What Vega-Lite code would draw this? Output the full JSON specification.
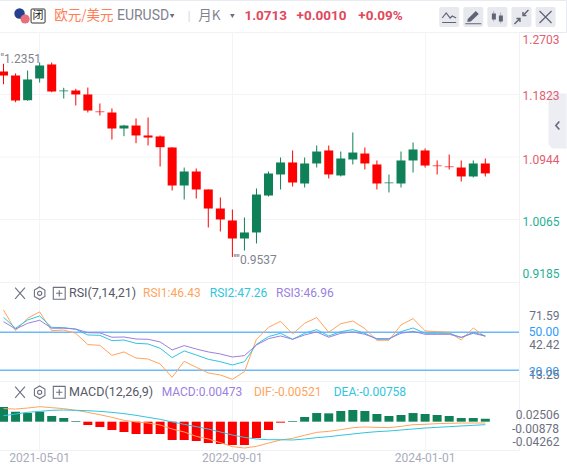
{"$schema":"https://vega.github.io/schema/vega-lite/v6.json","padding":{"left":-3,"top":-1,"right":0,"bottom":0},"spacing":0,"bounds":"flush","background":"#ffffff","config":{"font":"Roboto","view":{"stroke":"#f1f2f6"},"axis":{"title":null}},
"datasets":{"series":[
{"m":"2021-02-01","o":1.2147,"h":1.2256,"l":1.1968,"c":1.2091,"r1":67.6,"r2":61.8,"r3":58.4,"hist":0.0238,"dif":0.0211,"dea":0.0097},
{"m":"2021-03-01","o":1.2091,"h":1.2119,"l":1.1715,"c":1.1739,"r1":51.3,"r2":53.2,"r3":52.6,"hist":0.0162,"dif":0.0205,"dea":0.0124},
{"m":"2021-04-01","o":1.1743,"h":1.2161,"l":1.1735,"c":1.2035,"r1":61.1,"r2":59.7,"r3":57.1,"hist":0.014,"dif":0.0221,"dea":0.0151},
{"m":"2021-05-01","o":1.2049,"h":1.2274,"l":1.1992,"c":1.2232,"r1":66.1,"r2":62.9,"r3":59.5,"hist":0.0162,"dif":0.0243,"dea":0.0167},
{"m":"2021-06-01","o":1.2246,"h":1.2274,"l":1.1856,"c":1.1866,"r1":51.3,"r2":53.9,"r3":53.2,"hist":0.0092,"dif":0.0227,"dea":0.0184},
{"m":"2021-07-01","o":1.187,"h":1.1918,"l":1.1767,"c":1.188,"r1":51.8,"r2":53.7,"r3":53.2,"hist":0.0059,"dif":0.0211,"dea":0.0189},
{"m":"2021-08-01","o":1.188,"h":1.1904,"l":1.1669,"c":1.1824,"r1":49.2,"r2":52.4,"r3":52.6,"hist":0.0011,"dif":0.0184,"dea":0.0184},
{"m":"2021-09-01","o":1.1824,"h":1.1922,"l":1.157,"c":1.1598,"r1":40.3,"r2":47.9,"r3":49.7,"hist":-0.0054,"dif":0.0151,"dea":0.0178},
{"m":"2021-10-01","o":1.1584,"h":1.1697,"l":1.1528,"c":1.1575,"r1":39.7,"r2":47.6,"r3":49.5,"hist":-0.0086,"dif":0.0113,"dea":0.0167},
{"m":"2021-11-01","o":1.157,"h":1.1627,"l":1.119,"c":1.1345,"r1":31.8,"r2":43.4,"r3":46.1,"hist":-0.0135,"dif":0.007,"dea":0.0151},
{"m":"2021-12-01","o":1.1345,"h":1.1397,"l":1.1237,"c":1.1387,"r1":34.5,"r2":43.9,"r3":46.3,"hist":-0.0167,"dif":0.0022,"dea":0.013},
{"m":"2022-01-01","o":1.1387,"h":1.1486,"l":1.1138,"c":1.1247,"r1":29.7,"r2":41.3,"r3":44.7,"hist":-0.02,"dif":-0.0005,"dea":0.0103},
{"m":"2022-02-01","o":1.1247,"h":1.15,"l":1.1106,"c":1.1218,"r1":28.9,"r2":40.8,"r3":44.5,"hist":-0.02,"dif":-0.0022,"dea":0.007},
{"m":"2022-03-01","o":1.1233,"h":1.1247,"l":1.081,"c":1.1082,"r1":25,"r2":37.4,"r3":42.4,"hist":-0.02,"dif":-0.0054,"dea":0.0038},
{"m":"2022-04-01","o":1.1078,"h":1.1082,"l":1.0473,"c":1.0543,"r1":14.5,"r2":30,"r3":36.1,"hist":-0.0297,"dif":-0.0119,"dea":-0.0005},
{"m":"2022-05-01","o":1.0543,"h":1.0796,"l":1.0346,"c":1.074,"r1":27.1,"r2":35.3,"r3":39.5,"hist":-0.0297,"dif":-0.0167,"dea":-0.0043},
{"m":"2022-06-01","o":1.074,"h":1.0782,"l":1.036,"c":1.0487,"r1":22.4,"r2":32.1,"r3":36.8,"hist":-0.0313,"dif":-0.0238,"dea":-0.0081},
{"m":"2022-07-01","o":1.0487,"h":1.0487,"l":0.9952,"c":1.0219,"r1":17.9,"r2":28.7,"r3":34.5,"hist":-0.0346,"dif":-0.0281,"dea":-0.0119},
{"m":"2022-08-01","o":1.0219,"h":1.0374,"l":0.9896,"c":1.0065,"r1":16.3,"r2":26.8,"r3":32.9,"hist":-0.0362,"dif":-0.034,"dea":-0.0167},
{"m":"2022-09-01","o":1.0051,"h":1.0205,"l":0.9537,"c":0.9797,"r1":12.9,"r2":24.2,"r3":30.5,"hist":-0.0378,"dif":-0.0405,"dea":-0.0216},
{"m":"2022-10-01","o":0.9797,"h":1.0093,"l":0.9628,"c":0.9882,"r1":18.9,"r2":26.8,"r3":31.6,"hist":-0.0378,"dif":-0.0427,"dea":-0.0254},
{"m":"2022-11-01","o":0.9882,"h":1.0501,"l":0.9727,"c":1.0416,"r1":44.5,"r2":40.5,"r3":40,"hist":-0.0265,"dif":-0.04,"dea":-0.0281},
{"m":"2022-12-01","o":1.0402,"h":1.074,"l":1.0388,"c":1.0712,"r1":53.9,"r2":46.6,"r3":45,"hist":-0.0135,"dif":-0.0346,"dea":-0.0292},
{"m":"2023-01-01","o":1.0698,"h":1.0937,"l":1.0487,"c":1.0867,"r1":58.7,"r2":49.2,"r3":47.1,"hist":-0.0016,"dif":-0.0297,"dea":-0.0292},
{"m":"2023-02-01","o":1.0867,"h":1.1036,"l":1.0529,"c":1.0585,"r1":48.7,"r2":44.5,"r3":44.5,"hist":0.0011,"dif":-0.027,"dea":-0.0297},
{"m":"2023-03-01","o":1.0571,"h":1.0937,"l":1.0515,"c":1.0853,"r1":57.1,"r2":49.2,"r3":47.9,"hist":0.0076,"dif":-0.0221,"dea":-0.0281},
{"m":"2023-04-01","o":1.0853,"h":1.1106,"l":1.0796,"c":1.1021,"r1":61.6,"r2":52.1,"r3":50.3,"hist":0.014,"dif":-0.0173,"dea":-0.0259},
{"m":"2023-05-01","o":1.1036,"h":1.1106,"l":1.0642,"c":1.0698,"r1":50,"r2":47.1,"r3":46.1,"hist":0.0135,"dif":-0.0157,"dea":-0.0243},
{"m":"2023-06-01","o":1.0684,"h":1.1021,"l":1.067,"c":1.0923,"r1":56.8,"r2":50.5,"r3":49.2,"hist":0.0173,"dif":-0.013,"dea":-0.0221},
{"m":"2023-07-01","o":1.0909,"h":1.1289,"l":1.0839,"c":1.1007,"r1":58.9,"r2":52.1,"r3":50.3,"hist":0.0189,"dif":-0.0097,"dea":-0.02},
{"m":"2023-08-01","o":1.0993,"h":1.1078,"l":1.0768,"c":1.0853,"r1":52.9,"r2":49.2,"r3":48.4,"hist":0.0173,"dif":-0.0086,"dea":-0.0178},
{"m":"2023-09-01","o":1.0839,"h":1.0895,"l":1.0487,"c":1.0571,"r1":43.7,"r2":44.5,"r3":45,"hist":0.0124,"dif":-0.0092,"dea":-0.0162},
{"m":"2023-10-01","o":1.0575,"h":1.0698,"l":1.0445,"c":1.0585,"r1":43.7,"r2":44.5,"r3":45,"hist":0.0092,"dif":-0.0097,"dea":-0.0151},
{"m":"2023-11-01","o":1.0571,"h":1.1021,"l":1.0515,"c":1.0895,"r1":55.8,"r2":50.5,"r3":49.2,"hist":0.0108,"dif":-0.0076,"dea":-0.0135},
{"m":"2023-12-01","o":1.0895,"h":1.1148,"l":1.0726,"c":1.105,"r1":60.8,"r2":53.4,"r3":50.8,"hist":0.014,"dif":-0.0049,"dea":-0.0119},
{"m":"2024-01-01","o":1.1036,"h":1.1064,"l":1.0796,"c":1.0824,"r1":51.1,"r2":49.2,"r3":48.4,"hist":0.0124,"dif":-0.0043,"dea":-0.0103},
{"m":"2024-02-01","o":1.0824,"h":1.0895,"l":1.0698,"c":1.0815,"r1":50.5,"r2":49.2,"r3":48.4,"hist":0.0108,"dif":-0.0032,"dea":-0.0092},
{"m":"2024-03-01","o":1.081,"h":1.0979,"l":1.0768,"c":1.0801,"r1":50,"r2":49.2,"r3":48.4,"hist":0.0092,"dif":-0.0027,"dea":-0.0081},
{"m":"2024-04-01","o":1.0796,"h":1.0895,"l":1.0599,"c":1.067,"r1":43.9,"r2":45.8,"r3":46.1,"hist":0.0059,"dif":-0.0022,"dea":-0.007},
{"m":"2024-05-01","o":1.067,"h":1.0895,"l":1.0656,"c":1.0853,"r1":53.4,"r2":50,"r3":49.2,"hist":0.0059,"dif":-0.0022,"dea":-0.0059},
{"m":"2024-06-01","o":1.0853,"h":1.0923,"l":1.067,"c":1.0713,"r1":46.43,"r2":47.26,"r3":46.96,"hist":0.00473,"dif":-0.0022,"dea":-0.0049}
]},
"vconcat":[
{"width":567,"height":32,"view":{"stroke":"#e9ebf2"},
"encoding":{"x":{"field":"m","type":"ordinal","axis":null,"scale":{"type":"band","paddingInner":0,"paddingOuter":0,"range":[-1.5,576.66],"domain":["2021-02-01","2021-03-01","2021-04-01","2021-05-01","2021-06-01","2021-07-01","2021-08-01","2021-09-01","2021-10-01","2021-11-01","2021-12-01","2022-01-01","2022-02-01","2022-03-01","2022-04-01","2022-05-01","2022-06-01","2022-07-01","2022-08-01","2022-09-01","2022-10-01","2022-11-01","2022-12-01","2023-01-01","2023-02-01","2023-03-01","2023-04-01","2023-05-01","2023-06-01","2023-07-01","2023-08-01","2023-09-01","2023-10-01","2023-11-01","2023-12-01","2024-01-01","2024-02-01","2024-03-01","2024-04-01","2024-05-01","2024-06-01","2024-07-01","2024-08-01","2024-09-01","2024-10-01","2024-11-01","2024-12-01","2025-01-01"]}}},
"layer":[
{"data":{"values":[{"m":"2021-03-01"}]},"mark":{"type":"point","shape":"circle","filled":true,"size":110,"color":"#25408f","xOffset":4,"yOffset":-2.5,"opacity":1}},
{"data":{"values":[{"m":"2021-04-01"}]},"mark":{"type":"point","shape":"circle","filled":true,"size":85,"color":"#e8707c","xOffset":-2.5,"yOffset":3,"opacity":1}},
{"data":{"values":[{"m":"2021-05-01"}]},"mark":{"type":"point","shape":"M-0.85,-1 H0.85 Q1,-1 1,-0.85 V0.85 Q1,1 0.85,1 H-0.85 Q-1,1 -1,0.85 V-0.85 Q-1,-1 -0.85,-1 Z","filled":true,"size":196,"fill":"#ffffff","stroke":"#333333","strokeWidth":1,"xOffset":-1.6,"opacity":1}},
{"data":{"values":[{"m":"2021-05-01","label":"闭"}]},"mark":{"type":"text","font":"Noto Sans CJK SC","fontSize":11,"color":"#222222","dx":-1.6},"encoding":{"text":{"field":"label"}}},
{"data":{"values":[{"m":"2021-06-01","label":"欧元/美元"}]},"mark":{"type":"text","font":"Noto Sans CJK SC","fontSize":13.5,"color":"#ff7e57","align":"left","dx":2.6},"encoding":{"text":{"field":"label"}}},
{"data":{"values":[{"m":"2021-11-01","label":"EURUSD"}]},"mark":{"type":"text","fontSize":14,"color":"#7f8391","align":"left","dx":5},"encoding":{"text":{"field":"label"}}},
{"data":{"values":[{"m":"2022-04-01"},{"m":"2022-09-01"}]},"mark":{"type":"point","shape":"triangle-down","filled":true,"size":22,"color":"#6d7080","opacity":1}},
{"data":{"values":[{"m":"2022-05-01","label":"|"}]},"mark":{"type":"text","fontSize":13,"color":"#d5d7df","dx":5},"encoding":{"text":{"field":"label"}}},
{"data":{"values":[{"m":"2022-06-01","label":"月K"}]},"mark":{"type":"text","font":"Noto Sans CJK SC","fontSize":13.5,"color":"#7f8391","align":"left","dx":2},"encoding":{"text":{"field":"label"}}},
{"data":{"values":[{"m":"2022-10-01","label":"1.0713"}]},"mark":{"type":"text","fontSize":13.5,"fontWeight":"bold","color":"#e0485c","align":"left"},"encoding":{"text":{"field":"label"}}},
{"data":{"values":[{"m":"2023-02-01","label":"+0.0010"}]},"mark":{"type":"text","fontSize":13.5,"fontWeight":"bold","color":"#e0485c","align":"left","dx":4},"encoding":{"text":{"field":"label"}}},
{"data":{"values":[{"m":"2023-07-01","label":"+0.09%"}]},"mark":{"type":"text","fontSize":13.5,"fontWeight":"bold","color":"#e0485c","align":"left","dx":5.5},"encoding":{"text":{"field":"label"}}},
{"data":{"values":[{"m":"2024-03-01"},{"m":"2024-05-01"},{"m":"2024-07-01"},{"m":"2024-09-01"},{"m":"2024-11-01"}]},"mark":{"type":"point","shape":"M-0.8,-1 H0.8 Q1,-1 1,-0.8 V0.8 Q1,1 0.8,1 H-0.8 Q-1,1 -1,0.8 V-0.8 Q-1,-1 -0.8,-1 Z","filled":true,"size":400,"color":"#e7e9ef","opacity":1,"xOffset":0,"yOffset":1}},
{"data":{"values":[{"m":"2024-03-01"}]},"mark":{"type":"point","shape":"M-0.7,0.1 L-0.3,-0.4 L0.1,0.1 L0.3,-0.1 L0.7,0.1 M-0.7,0.55 H0.7","filled":false,"size":400,"stroke":"#5f6473","strokeWidth":1.2,"opacity":1,"yOffset":1}},
{"data":{"values":[{"m":"2024-05-01"}]},"mark":{"type":"point","shape":"M-0.55,0.2 L0.25,-0.6 L0.55,-0.3 L-0.25,0.45 L-0.6,0.5 Z M-0.8,0.62 H0.8 V0.72 H-0.8 Z","filled":true,"size":400,"color":"#5f6473","opacity":1,"yOffset":1}},
{"data":{"values":[{"m":"2024-07-01"}]},"mark":{"type":"point","shape":"M-0.55,-0.35 H-0.15 V0.25 H-0.55 Z M0.15,-0.15 H0.55 V0.45 H0.15 Z M-0.37,-0.6 H-0.33 V0.45 H-0.37 Z M0.33,-0.45 H0.37 V0.65 H0.33 Z","filled":true,"size":400,"color":"#5f6473","opacity":1,"yOffset":1}},
{"data":{"values":[{"m":"2024-09-01"}]},"mark":{"type":"point","shape":"M-0.7,0.7 L-0.15,0.15 M-0.5,0.15 H-0.15 V0.5 M0.7,-0.7 L0.15,-0.15 M0.5,-0.15 H0.15 V-0.5","filled":false,"size":400,"stroke":"#5f6473","strokeWidth":1.4,"opacity":1,"yOffset":1}},
{"data":{"values":[{"m":"2024-11-01"}]},"mark":{"type":"point","shape":"M-0.6,-0.6 L0.6,0.6 M0.6,-0.6 L-0.6,0.6","filled":false,"size":400,"stroke":"#5f6473","strokeWidth":1.2,"opacity":1,"yOffset":1}}
]},
{"width":520,"height":250,"data":{"name":"series"},
"encoding":{"x":{"field":"m","type":"ordinal","axis":{"values":["2021-05-01","2022-09-01","2024-01-01"],"grid":true,"gridColor":"#f3f4f8","labels":false,"ticks":false,"domain":false},"scale":{"type":"band","paddingInner":0,"paddingOuter":0,"range":[-1.5,576.66],"domain":["2021-02-01","2021-03-01","2021-04-01","2021-05-01","2021-06-01","2021-07-01","2021-08-01","2021-09-01","2021-10-01","2021-11-01","2021-12-01","2022-01-01","2022-02-01","2022-03-01","2022-04-01","2022-05-01","2022-06-01","2022-07-01","2022-08-01","2022-09-01","2022-10-01","2022-11-01","2022-12-01","2023-01-01","2023-02-01","2023-03-01","2023-04-01","2023-05-01","2023-06-01","2023-07-01","2023-08-01","2023-09-01","2023-10-01","2023-11-01","2023-12-01","2024-01-01","2024-02-01","2024-03-01","2024-04-01","2024-05-01","2024-06-01","2024-07-01","2024-08-01","2024-09-01","2024-10-01","2024-11-01","2024-12-01","2025-01-01"]}}},
"layer":[
{"data":{"values":[{"p":1.1823},{"p":1.0944},{"p":1.0065}]},"mark":{"type":"rule","color":"#f3f4f8","strokeWidth":1},"encoding":{"x":{"value":0},"x2":{"value":520},"y":{"field":"p","type":"quantitative","scale":{"domain":[0.9185,1.2703],"nice":false,"zero":false},"axis":{"orient":"right","zindex":2,"values":[1.2597,1.181,1.0913,1.0036,0.9309],"labelExpr":"datum.value>1.25?'1.2703':datum.value>1.15?'1.1823':datum.value>1.05?'1.0944':datum.value>0.97?'1.0065':'0.9185'","labelColor":{"condition":{"test":"datum.value>1.05","value":"#e25d6e"},"value":"#1fb094"},"labelFontSize":12,"labelAlign":"right","labelPadding":40,"ticks":false,"domain":false,"grid":false}}}},
{"mark":{"type":"rule","strokeWidth":1},"encoding":{"y":{"field":"l","type":"quantitative","scale":{"domain":[0.9185,1.2703],"nice":false,"zero":false}},"y2":{"field":"h"},"color":{"condition":{"test":"datum.c<datum.o","value":"#ff0000"},"value":"#108059"}}},
{"mark":{"type":"bar","size":9},"encoding":{"y":{"field":"o","type":"quantitative","scale":{"domain":[0.9185,1.2703],"nice":false,"zero":false}},"y2":{"field":"c"},"color":{"condition":{"test":"datum.c<datum.o","value":"#ff0000"},"value":"#108059"}}},
{"data":{"values":[{"m":"2021-02-01","p":1.233,"label":"''1.2351"}]},"mark":{"type":"text","align":"left","fontSize":12,"color":"#7f8391","dx":-3},"encoding":{"y":{"field":"p","type":"quantitative","scale":{"domain":[0.9185,1.2703],"nice":false,"zero":false}},"text":{"field":"label"}}},
{"data":{"values":[{"m":"2022-09-01","p":0.9497,"label":"''''0.9537"}]},"mark":{"type":"text","align":"left","fontSize":12,"color":"#7f8391","dx":1},"encoding":{"y":{"field":"p","type":"quantitative","scale":{"domain":[0.9185,1.2703],"nice":false,"zero":false}},"text":{"field":"label"}}},
{"data":{"values":[{"m":"2024-12-01","t":1.1837,"b":1.1064}]},"mark":{"type":"bar","size":18,"color":"#eceef3","cornerRadiusBottomLeft":6},"encoding":{"y":{"field":"t","type":"quantitative","scale":{"domain":[0.9185,1.2703],"nice":false,"zero":false}},"y2":{"field":"b"}}},
{"data":{"values":[{"m":"2024-12-01","p":1.1386}]},"mark":{"type":"point","shape":"M0.35,-0.8 L-0.35,0 L0.35,0.8","filled":false,"size":100,"stroke":"#666a7a","strokeWidth":1.6,"opacity":1},"encoding":{"y":{"field":"p","type":"quantitative","scale":{"domain":[0.9185,1.2703],"nice":false,"zero":false}}}}
]},
{"width":520,"height":99,"data":{"name":"series"},
"encoding":{"x":{"field":"m","type":"ordinal","axis":{"values":["2021-05-01","2022-09-01","2024-01-01"],"grid":true,"gridColor":"#f3f4f8","labels":false,"ticks":false,"domain":false},"scale":{"type":"band","paddingInner":0,"paddingOuter":0,"range":[-1.5,576.66],"domain":["2021-02-01","2021-03-01","2021-04-01","2021-05-01","2021-06-01","2021-07-01","2021-08-01","2021-09-01","2021-10-01","2021-11-01","2021-12-01","2022-01-01","2022-02-01","2022-03-01","2022-04-01","2022-05-01","2022-06-01","2022-07-01","2022-08-01","2022-09-01","2022-10-01","2022-11-01","2022-12-01","2023-01-01","2023-02-01","2023-03-01","2023-04-01","2023-05-01","2023-06-01","2023-07-01","2023-08-01","2023-09-01","2023-10-01","2023-11-01","2023-12-01","2024-01-01","2024-02-01","2024-03-01","2024-04-01","2024-05-01","2024-06-01","2024-07-01","2024-08-01","2024-09-01","2024-10-01","2024-11-01","2024-12-01","2025-01-01"]}}},
"layer":[
{"data":{"values":[{"p":50},{"p":20}]},"mark":{"type":"rule","color":"#6cb9fb","strokeWidth":1.5},"encoding":{"x":{"value":0},"x2":{"value":520},"y":{"field":"p","type":"quantitative","scale":{"domain":[11.56,89.7],"nice":false,"zero":false},"axis":{"orient":"right","zindex":2,"values":[63.65,40.2,16.3],"labelExpr":"datum.value>60?'71.59':datum.value>30?'42.42':'13.25'","labelColor":"#6d7080","labelFontSize":12,"labelAlign":"right","labelPadding":40,"ticks":false,"domain":false,"grid":false}}}},
{"mark":{"type":"line","color":"#ffa45c","strokeWidth":1},"encoding":{"y":{"field":"r1","type":"quantitative","scale":{"domain":[11.56,89.7],"nice":false,"zero":false}}}},
{"mark":{"type":"line","color":"#30c5e0","strokeWidth":1},"encoding":{"y":{"field":"r2","type":"quantitative","scale":{"domain":[11.56,89.7],"nice":false,"zero":false}}}},
{"mark":{"type":"line","color":"#9b7fe0","strokeWidth":1},"encoding":{"y":{"field":"r3","type":"quantitative","scale":{"domain":[11.56,89.7],"nice":false,"zero":false}}}},
{"data":{"values":[{"m":"2024-12-01","p":50,"label":"50.00"},{"m":"2024-12-01","p":19,"label":"20.00"}]},"mark":{"type":"text","align":"right","baseline":"middle","fontSize":12,"color":"#2e9bf5","dx":1.4},"encoding":{"y":{"field":"p","type":"quantitative","scale":{"domain":[11.56,89.7],"nice":false,"zero":false}},"text":{"field":"label"}}},
{"data":{"values":[{"m":"2021-03-01","p":80.8}]},"mark":{"type":"point","shape":"M-0.7,-0.8 L0.7,0.8 M0.7,-0.8 L-0.7,0.8","filled":false,"size":196,"stroke":"#6d7080","strokeWidth":1.1,"opacity":1,"xOffset":4.5},"encoding":{"y":{"field":"p","type":"quantitative","scale":{"domain":[11.56,89.7],"nice":false,"zero":false}}}},
{"data":{"values":[{"m":"2021-05-01","p":80.8}]},"mark":{"type":"point","shape":"M0,-0.9 L0.75,-0.45 V0.45 L0,0.9 L-0.75,0.45 V-0.45 Z M0,-0.3 A0.3,0.3 0 1,0 0,0.3 A0.3,0.3 0 1,0 0,-0.3 Z","filled":false,"size":196,"stroke":"#6d7080","strokeWidth":1.1,"opacity":1},"encoding":{"y":{"field":"p","type":"quantitative","scale":{"domain":[11.56,89.7],"nice":false,"zero":false}}}},
{"data":{"values":[{"m":"2021-07-01","p":80.8}]},"mark":{"type":"point","shape":"M-0.85,-0.85 H0.85 V0.85 H-0.85 Z M-0.45,0 H0.45 M0,-0.45 V0.45","filled":false,"size":196,"stroke":"#6d7080","strokeWidth":1.1,"opacity":1,"xOffset":-4.5},"encoding":{"y":{"field":"p","type":"quantitative","scale":{"domain":[11.56,89.7],"nice":false,"zero":false}}}},
{"data":{"values":[{"m":"2021-07-01","p":80.8,"label":"RSI(7,14,21)"}]},"mark":{"type":"text","align":"left","fontSize":12.5,"color":"#555866","dx":5.2},"encoding":{"y":{"field":"p","type":"quantitative","scale":{"domain":[11.56,89.7],"nice":false,"zero":false}},"text":{"field":"label"}}},
{"data":{"values":[{"m":"2022-02-01","p":80.8,"label":"RSI1:46.43"}]},"mark":{"type":"text","align":"left","fontSize":12,"color":"#ffa45c","dx":-5},"encoding":{"y":{"field":"p","type":"quantitative","scale":{"domain":[11.56,89.7],"nice":false,"zero":false}},"text":{"field":"label"}}},
{"data":{"values":[{"m":"2022-07-01","p":80.8,"label":"RSI2:47.26"}]},"mark":{"type":"text","align":"left","fontSize":12,"color":"#30c5e0","dx":1.5},"encoding":{"y":{"field":"p","type":"quantitative","scale":{"domain":[11.56,89.7],"nice":false,"zero":false}},"text":{"field":"label"}}},
{"data":{"values":[{"m":"2023-01-01","p":80.8,"label":"RSI3:46.96"}]},"mark":{"type":"text","align":"left","fontSize":12,"color":"#9b7fe0","dx":-4.5},"encoding":{"y":{"field":"p","type":"quantitative","scale":{"domain":[11.56,89.7],"nice":false,"zero":false}},"text":{"field":"label"}}}
]},
{"width":520,"height":69,"data":{"name":"series"},
"encoding":{"x":{"field":"m","type":"ordinal","axis":{"values":["2021-05-01","2022-09-01","2024-01-01"],"grid":true,"gridColor":"#f3f4f8","labelAngle":0,"labelFontSize":12,"labelColor":"#a9acbb","labelPadding":2,"ticks":false,"domain":false},"scale":{"type":"band","paddingInner":0,"paddingOuter":0,"range":[-1.5,576.66],"domain":["2021-02-01","2021-03-01","2021-04-01","2021-05-01","2021-06-01","2021-07-01","2021-08-01","2021-09-01","2021-10-01","2021-11-01","2021-12-01","2022-01-01","2022-02-01","2022-03-01","2022-04-01","2022-05-01","2022-06-01","2022-07-01","2022-08-01","2022-09-01","2022-10-01","2022-11-01","2022-12-01","2023-01-01","2023-02-01","2023-03-01","2023-04-01","2023-05-01","2023-06-01","2023-07-01","2023-08-01","2023-09-01","2023-10-01","2023-11-01","2023-12-01","2024-01-01","2024-02-01","2024-03-01","2024-04-01","2024-05-01","2024-06-01","2024-07-01","2024-08-01","2024-09-01","2024-10-01","2024-11-01","2024-12-01","2025-01-01"]}}},
"layer":[
{"mark":{"type":"bar","size":9},"encoding":{"y":{"field":"hist","type":"quantitative","scale":{"domain":[-0.0459,0.0659],"nice":false,"zero":false},"axis":{"orient":"right","zindex":2,"values":[0.01134,-0.0319],"labelExpr":"datum.value>0?'0.02506':'-0.04262'","labelColor":"#6d7080","labelFontSize":12,"labelAlign":"right","labelPadding":40,"ticks":false,"domain":false,"grid":false}},"y2":{"datum":0},"color":{"condition":{"test":"datum.hist<0","value":"#ff0000"},"value":"#108059"}}},
{"mark":{"type":"line","color":"#ffa45c","strokeWidth":1},"encoding":{"y":{"field":"dif","type":"quantitative","scale":{"domain":[-0.0459,0.0659],"nice":false,"zero":false}}}},
{"mark":{"type":"line","color":"#30c5e0","strokeWidth":1},"encoding":{"y":{"field":"dea","type":"quantitative","scale":{"domain":[-0.0459,0.0659],"nice":false,"zero":false}}}},
{"data":{"values":[{"m":"2024-12-01","p":-0.01134,"label":"-0.00878"}]},"mark":{"type":"text","align":"right","baseline":"middle","fontSize":12,"color":"#6d7080","dx":1.4},"encoding":{"y":{"field":"p","type":"quantitative","scale":{"domain":[-0.0459,0.0659],"nice":false,"zero":false}},"text":{"field":"label"}}},
{"data":{"values":[{"m":"2021-03-01","p":0.0476}]},"mark":{"type":"point","shape":"M-0.7,-0.8 L0.7,0.8 M0.7,-0.8 L-0.7,0.8","filled":false,"size":196,"stroke":"#6d7080","strokeWidth":1.1,"opacity":1,"xOffset":4.5},"encoding":{"y":{"field":"p","type":"quantitative","scale":{"domain":[-0.0459,0.0659],"nice":false,"zero":false}}}},
{"data":{"values":[{"m":"2021-05-01","p":0.0476}]},"mark":{"type":"point","shape":"M0,-0.9 L0.75,-0.45 V0.45 L0,0.9 L-0.75,0.45 V-0.45 Z M0,-0.3 A0.3,0.3 0 1,0 0,0.3 A0.3,0.3 0 1,0 0,-0.3 Z","filled":false,"size":196,"stroke":"#6d7080","strokeWidth":1.1,"opacity":1},"encoding":{"y":{"field":"p","type":"quantitative","scale":{"domain":[-0.0459,0.0659],"nice":false,"zero":false}}}},
{"data":{"values":[{"m":"2021-07-01","p":0.0476}]},"mark":{"type":"point","shape":"M-0.85,-0.85 H0.85 V0.85 H-0.85 Z M-0.45,0 H0.45 M0,-0.45 V0.45","filled":false,"size":196,"stroke":"#6d7080","strokeWidth":1.1,"opacity":1,"xOffset":-4.5},"encoding":{"y":{"field":"p","type":"quantitative","scale":{"domain":[-0.0459,0.0659],"nice":false,"zero":false}}}},
{"data":{"values":[{"m":"2021-07-01","p":0.0476,"label":"MACD(12,26,9)"}]},"mark":{"type":"text","align":"left","fontSize":12.5,"color":"#555866","dx":5.2},"encoding":{"y":{"field":"p","type":"quantitative","scale":{"domain":[-0.0459,0.0659],"nice":false,"zero":false}},"text":{"field":"label"}}},
{"data":{"values":[{"m":"2022-03-01","p":0.0476,"label":"MACD:0.00473"}]},"mark":{"type":"text","align":"left","fontSize":12,"color":"#9b7fe0","dx":1.6},"encoding":{"y":{"field":"p","type":"quantitative","scale":{"domain":[-0.0459,0.0659],"nice":false,"zero":false}},"text":{"field":"label"}}},
{"data":{"values":[{"m":"2022-11-01","p":0.0476,"label":"DIF:-0.00521"}]},"mark":{"type":"text","align":"left","fontSize":12,"color":"#ffa45c","dx":-2.5},"encoding":{"y":{"field":"p","type":"quantitative","scale":{"domain":[-0.0459,0.0659],"nice":false,"zero":false}},"text":{"field":"label"}}},
{"data":{"values":[{"m":"2023-05-01","p":0.0476,"label":"DEA:-0.00758"}]},"mark":{"type":"text","align":"left","fontSize":12,"color":"#30c5e0","dx":5},"encoding":{"y":{"field":"p","type":"quantitative","scale":{"domain":[-0.0459,0.0659],"nice":false,"zero":false}},"text":{"field":"label"}}}
]}
]}
